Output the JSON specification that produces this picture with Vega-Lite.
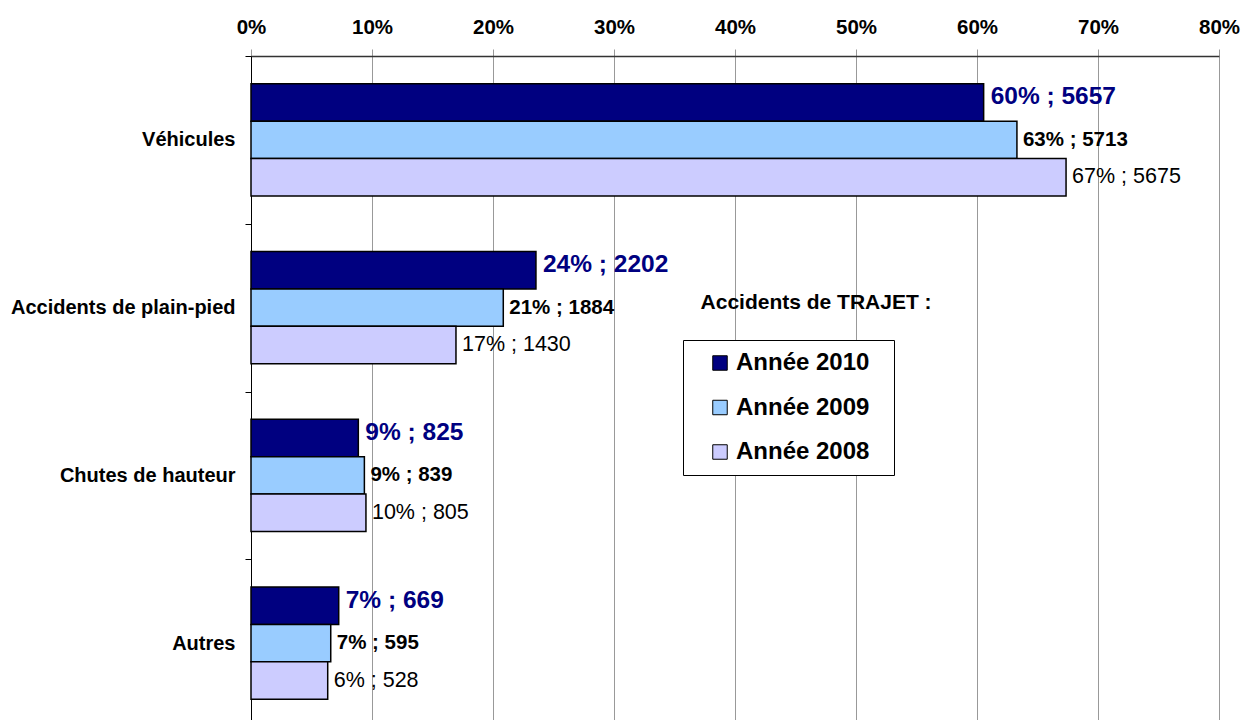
{
  "$schema": "https://vega.github.io/schema/vega-lite/v6.json",
  "width": 968,
  "height": 664,
  "autosize": {"type": "none"},
  "padding": {"left": 251, "top": 56, "right": 26, "bottom": 0},
  "background": "white",
  "config": {
    "font": "Liberation Sans",
    "view": {"stroke": null}
  },
  "data": {
    "values": [
      {"cat": "Véhicules", "year": "Année 2010", "pct": 0.6055, "label": "60% ; 5657"},
      {"cat": "Véhicules", "year": "Année 2009", "pct": 0.633, "label": "63% ; 5713"},
      {"cat": "Véhicules", "year": "Année 2008", "pct": 0.6736, "label": "67% ; 5675"},
      {"cat": "Accidents de plain-pied", "year": "Année 2010", "pct": 0.2355, "label": "24% ; 2202"},
      {"cat": "Accidents de plain-pied", "year": "Année 2009", "pct": 0.2085, "label": "21% ; 1884"},
      {"cat": "Accidents de plain-pied", "year": "Année 2008", "pct": 0.1694, "label": "17% ; 1430"},
      {"cat": "Chutes de hauteur", "year": "Année 2010", "pct": 0.0887, "label": "9% ; 825"},
      {"cat": "Chutes de hauteur", "year": "Année 2009", "pct": 0.0937, "label": "9% ; 839"},
      {"cat": "Chutes de hauteur", "year": "Année 2008", "pct": 0.095, "label": "10% ; 805"},
      {"cat": "Autres", "year": "Année 2010", "pct": 0.0725, "label": "7% ; 669"},
      {"cat": "Autres", "year": "Année 2009", "pct": 0.0659, "label": "7% ; 595"},
      {"cat": "Autres", "year": "Année 2008", "pct": 0.0634, "label": "6% ; 528"}
    ]
  },
  "encoding": {
    "y": {
      "field": "cat",
      "type": "nominal",
      "sort": ["Véhicules", "Accidents de plain-pied", "Chutes de hauteur", "Autres"],
      "scale": {"range": [0, 671], "paddingInner": 0, "paddingOuter": 0},
      "axis": {
        "title": null,
        "tickBand": "extent",
        "domainColor": "black",
        "domainWidth": 1,
        "tickColor": "black",
        "tickSize": 6,
        "labelFontSize": 20,
        "labelFontWeight": "bold",
        "labelColor": "black",
        "labelPadding": 10,
        "labelLimit": 300
      }
    },
    "yOffset": {
      "field": "year",
      "type": "nominal",
      "sort": ["Année 2010", "Année 2009", "Année 2008"],
      "scale": {"paddingInner": 0, "paddingOuter": 0.742}
    },
    "x": {
      "field": "pct",
      "type": "quantitative",
      "scale": {"domain": [0, 0.8], "nice": false, "zero": true},
      "axis": {
        "orient": "top",
        "title": null,
        "values": [0, 0.1, 0.2, 0.3, 0.4, 0.5, 0.6, 0.7, 0.8],
        "format": ".0%",
        "grid": true,
        "gridColor": "#999999",
        "gridWidth": 1,
        "tickColor": "#999999",
        "tickSize": 7,
        "domainColor": "#333333",
        "domainWidth": 1.5,
        "labelFontSize": 20.5,
        "labelFontWeight": "bold",
        "labelColor": "black",
        "labelPadding": 12,
        "labelFlush": false,
        "labelOverlap": false
      }
    }
  },
  "layer": [
    {
      "mark": {"type": "bar", "stroke": "black", "strokeWidth": 1.5},
      "encoding": {
        "color": {
          "field": "year",
          "type": "nominal",
          "sort": ["Année 2010", "Année 2009", "Année 2008"],
          "scale": {"domain": ["Année 2010", "Année 2009", "Année 2008"], "range": ["#000080", "#99CCFF", "#CCCCFF"]},
          "legend": {
            "title": null,
            "orient": "none",
            "legendX": 432,
            "legendY": 284,
            "strokeColor": "black",
            "fillColor": "white",
            "padding": 11,
            "symbolType": "square",
            "symbolSize": 210,
            "symbolStrokeColor": "black",
            "symbolStrokeWidth": 1,
            "symbolOffset": 14,
            "labelOffset": 4,
            "labelFontSize": 24,
            "labelFontWeight": "bold",
            "labelColor": "black",
            "labelLimit": 400,
            "labelExpr": "datum.label + '\u00a0\u00a0\u200b'",
            "rowPadding": 20.5
          }
        }
      }
    },
    {
      "transform": [{"filter": "datum.year === 'Année 2010'"}],
      "mark": {"type": "text", "align": "left", "baseline": "middle", "dx": 7, "dy": -5, "fontSize": 24.5, "fontWeight": "bold", "color": "#000080"},
      "encoding": {"text": {"field": "label"}}
    },
    {
      "transform": [{"filter": "datum.year === 'Année 2009'"}],
      "mark": {"type": "text", "align": "left", "baseline": "middle", "dx": 6, "fontSize": 20.5, "fontWeight": "bold", "color": "black"},
      "encoding": {"text": {"field": "label"}}
    },
    {
      "transform": [{"filter": "datum.year === 'Année 2008'"}],
      "mark": {"type": "text", "align": "left", "baseline": "middle", "dx": 6, "fontSize": 21.5, "fontWeight": "normal", "color": "black"},
      "encoding": {"text": {"field": "label"}}
    },
    {
      "transform": [{"filter": "datum.year === 'Année 2009' && datum.cat === 'Accidents de plain-pied'"}],
      "mark": {"type": "text", "align": "center", "baseline": "middle", "dy": -5, "fontSize": 21, "fontWeight": "bold", "color": "black"},
      "encoding": {
        "x": {"datum": 0.467},
        "text": {"value": "Accidents de TRAJET :"}
      }
    }
  ]
}
